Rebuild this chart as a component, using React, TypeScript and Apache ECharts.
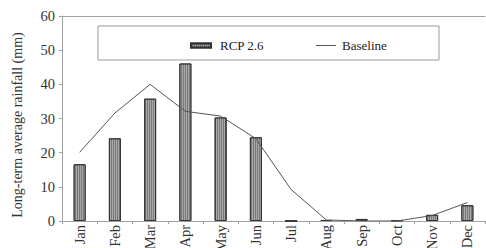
import React, { useEffect, useRef } from "react";
import * as echarts from "echarts";

const months = ["Jan", "Feb", "Mar", "Apr", "May", "Jun", "Jul", "Aug", "Sep", "Oct", "Nov", "Dec"];
const rcp26 = [16.6, 24.2, 35.8, 46.1, 30.3, 24.5, 0, 0.3, 0.6, 0.2, 1.8, 4.6];
const baseline = [20.1, 31.6, 40.0, 32.1, 30.7, 24.1, 9.2, 0.3, 0.0, 0.0, 1.6, 5.4];
const yTicks = { min: 0, max: 60, interval: 10 };
const yTitle = "Long-term average rainfall (mm)";

const FONT = "Liberation Serif";

export default function App() {
  const ref = useRef<HTMLDivElement>(null);
  useEffect(() => {
    if (!ref.current) return;
    const chart = echarts.init(ref.current, undefined, { renderer: "svg" });
    chart.setOption({
      animation: false,
      backgroundColor: "#ffffff",
      grid: { left: 62, right: 1, top: 16, bottom: 27, outerBoundsMode: "none", containLabel: false },
      graphic: [
        {
          type: "rect",
          shape: { x: 98, y: 26, width: 341, height: 34 },
          style: { fill: "#ffffff", stroke: "#9a9a9a", lineWidth: 1 },
          z: 1,
        },
        {
          type: "text",
          x: 17,
          y: 125,
          rotation: Math.PI / 2,
          style: {
            text: yTitle,
            fontFamily: FONT,
            fontSize: 14,
            fill: "#333",
            align: "center",
            verticalAlign: "middle",
          },
        },
      ],
      legend: [
        {
          left: 185,
          top: 34,
          itemWidth: 20,
          itemHeight: 4,
          data: [{ name: "RCP 2.6", icon: "rect" }],
          textStyle: { fontFamily: FONT, fontSize: 13, color: "#222", padding: [0, 0, 0, 4] },
          z: 5,
        },
        {
          left: 311,
          top: 34,
          itemWidth: 20,
          itemHeight: 1,
          data: [{ name: "Baseline", icon: "rect", itemStyle: { color: "#555" } }],
          textStyle: { fontFamily: FONT, fontSize: 13, color: "#222", padding: [0, 0, 0, 1] },
          z: 5,
        },
      ],
      xAxis: [
        {
          type: "category",
          data: months,
          axisLine: { lineStyle: { color: "#a0a0a0" } },
          axisTick: { show: true, length: 3, lineStyle: { color: "#a0a0a0" } },
          axisLabel: {
            rotate: 90,
            fontFamily: FONT,
            fontSize: 14.5,
            color: "#333",
            margin: 4,
          },
        },
        {
          type: "category",
          position: "top",
          data: months,
          axisLine: { show: true, lineStyle: { color: "#a0a0a0" } },
          axisTick: { show: false },
          axisLabel: { show: false },
        },
      ],
      yAxis: {
        type: "value",
        min: yTicks.min,
        max: yTicks.max,
        interval: yTicks.interval,
        axisLine: { show: true, lineStyle: { color: "#a0a0a0" } },
        axisTick: { show: true, length: 3, lineStyle: { color: "#a0a0a0" } },
        splitLine: { show: false },
        axisLabel: { fontFamily: FONT, fontSize: 14.5, color: "#333", margin: 7 },
      },
      series: [
        {
          name: "RCP 2.6",
          type: "bar",
          data: rcp26,
          barWidth: 12,
          itemStyle: {
            color: "#7a7a7a",
            borderColor: "#333",
            borderWidth: 1,
            decal: {
              symbol: "rect",
              symbolSize: 1,
              color: "rgba(255,255,255,0.35)",
              dashArrayX: [1, 1],
              dashArrayY: [4, 0],
              rotation: 0,
            },
          },
        },
        {
          name: "Baseline",
          type: "line",
          data: baseline,
          showSymbol: false,
          symbol: "none",
          lineStyle: { color: "#555", width: 1 },
          itemStyle: { color: "#555" },
          z: 3,
        },
      ],
    });
    return () => chart.dispose();
  }, []);
  return (
    <div
      ref={ref}
      style={{ position: "fixed", left: 0, top: 0, width: 486, height: 248 }}
    />
  );
}
